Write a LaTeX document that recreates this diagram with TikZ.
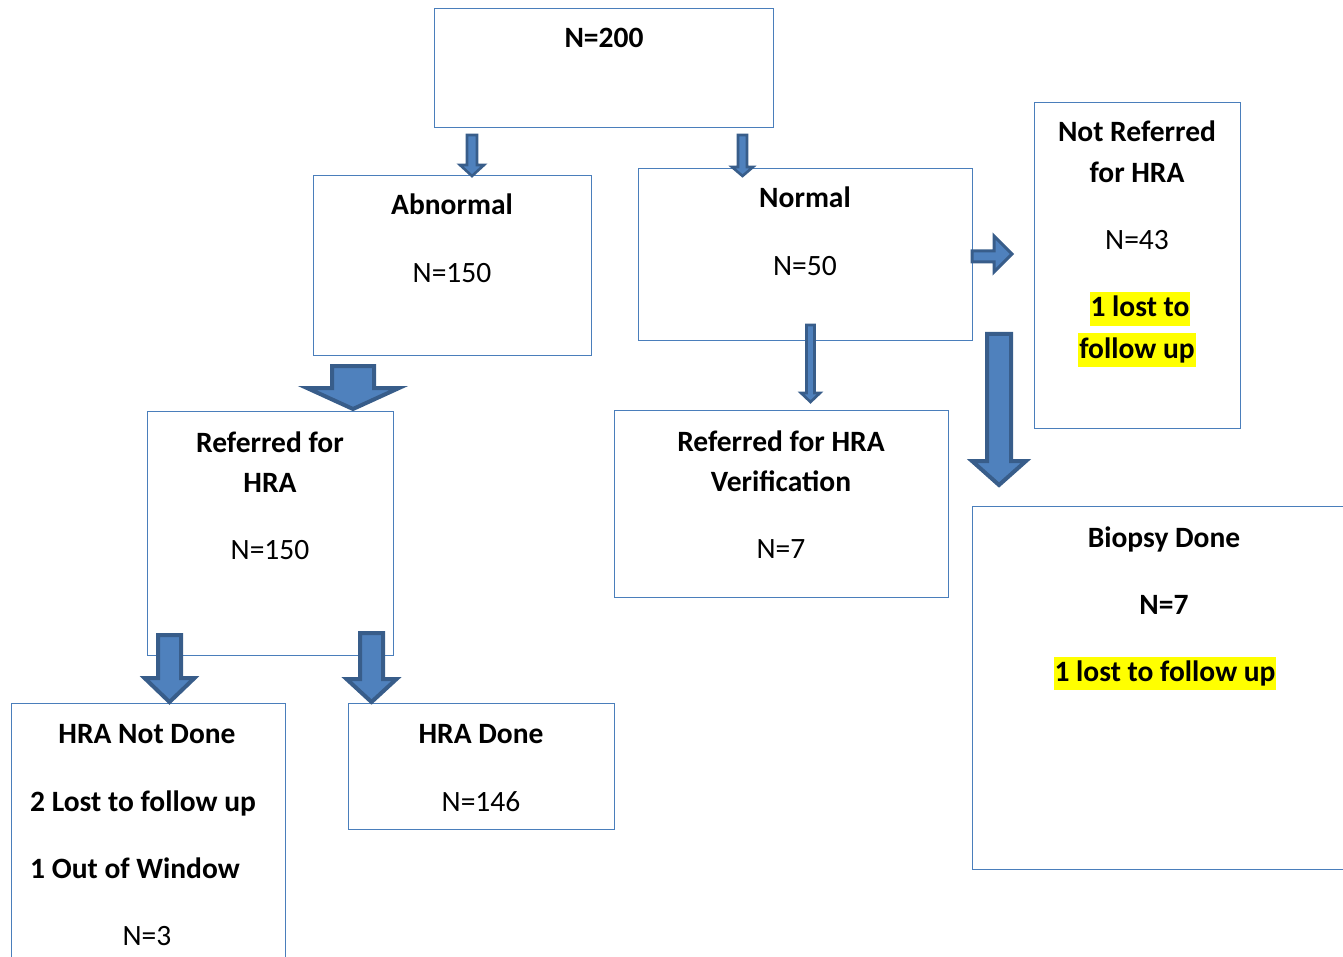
\documentclass[tikz,border=0pt]{standalone}
\usepackage{fontspec}
\setmainfont{Carlito}
\definecolor{boxblue}{HTML}{4A7EBB}
\definecolor{arrowfill}{HTML}{4F81BD}
\definecolor{arrowdark}{HTML}{385D8A}
\definecolor{hlyellow}{HTML}{FFFF00}
\tikzset{
  box/.style={draw=boxblue, line width=1.3pt, inner sep=0pt, anchor=north west},
  txt/.style={inner sep=0pt, anchor=base, font=\fontsize{29.5pt}{40pt}\selectfont},
  btxt/.style={txt, font=\fontsize{29.5pt}{40pt}\selectfont\bfseries},
  hl/.style={btxt, fill=hlyellow, inner xsep=1pt, inner ysep=0pt, text height=24.5pt, text depth=9pt},
  barrow/.style={draw=arrowdark, fill=arrowfill, line width=4pt, line join=miter},
  sarrow/.style={barrow, line width=2.6pt}
}
% cx, top, headstart, tip, shafthalf, headhalf, style
\newcommand{\blkdown}[7]{%
  \draw[#7] ({#1-#5},#2) -- ({#1+#5},#2) -- ({#1+#5},#3) -- ({#1+#6},#3) -- (#1,#4)
    -- ({#1-#6},#3) -- ({#1-#5},#3) -- cycle;}
\begin{document}
\begin{tikzpicture}[x=1pt,y=-1pt]
\useasboundingbox (0,0) rectangle (1343,957);
\clip (0,0) rectangle (1343,957);
% boxes
\node[box, minimum width=339pt, minimum height=119pt] (top) at (434,8) {};
\node[box, minimum width=278pt, minimum height=180pt] (abn) at (313,175) {};
\node[box, minimum width=334pt, minimum height=172pt] (nor) at (638,168) {};
\node[box, minimum width=206pt, minimum height=326pt] (notref) at (1034,102) {};
\node[box, minimum width=246pt, minimum height=244pt] (ref) at (147,411) {};
\node[box, minimum width=334pt, minimum height=187pt] (ver) at (614,410) {};
\node[box, minimum width=380pt, minimum height=363pt] (bio) at (972,506) {};
\node[box, minimum width=274pt, minimum height=270pt] (notdone) at (11,703) {};
\node[box, minimum width=266pt, minimum height=126pt] (done) at (348,703) {};
% texts
\node[btxt] (t1) at (604,48) {N=200};
\node[btxt] (t2) at (452,215) {Abnormal};
\node[txt] (t3) at (452,283) {N=150};
\node[btxt] (t4) at (805,208) {Normal};
\node[txt] (t5) at (805,276) {N=50};
\node[btxt] (t6) at (1137,142) {Not Referred};
\node[btxt] (t7) at (1137,183) {for HRA};
\node[txt] (t8) at (1137,250) {N=43};
\node[hl] (t9) at (1140,317) {1 lost to\ };
\node[hl] (t10) at (1137,358) {follow up};
\node[btxt] (t11) at (270,452) {Referred for};
\node[btxt] (t12) at (270,492) {HRA};
\node[txt] (t13) at (270,559) {N=150};
\node[btxt] (t14) at (781,451) {Referred for HRA};
\node[btxt] (t15) at (781,491) {Verification};
\node[txt] (t16) at (781,558) {N=7};
\node[btxt] (t17) at (1164,547) {Biopsy Done};
\node[btxt] (t18) at (1164,614) {N=7};
\node[hl] (t19) at (1165,681) {1 lost to follow up};
\node[btxt] (t20) at (147,743) {HRA Not Done};
\node[btxt, anchor=base west] (t21) at (30,811) {2 Lost to follow up};
\node[btxt, anchor=base west] (t22) at (30,878) {1 Out of Window};
\node[txt] (t23) at (147,945) {N=3};
\node[btxt] (t24) at (481,743) {HRA Done};
\node[txt] (t25) at (481,811) {N=146};
% block arrows
\blkdown{472}{135}{165}{176}{5}{12}{sarrow}
\blkdown{742.5}{135}{167}{176}{4.5}{10.5}{sarrow}
\blkdown{353}{366}{388}{409}{21}{46}{barrow}
\blkdown{810.5}{325}{393}{402}{4}{9.5}{sarrow}
\blkdown{999}{334}{461}{485}{12}{27}{barrow}
\blkdown{169.5}{635}{678}{702}{11.5}{25}{barrow}
\blkdown{371.5}{633}{679}{702}{11.5}{25}{barrow}
\draw[barrow, line width=3pt] (972,251) -- (994,251) -- (994,236) -- (1012,254) -- (994,272) -- (994,262) -- (972,262) -- cycle;
\end{tikzpicture}
\end{document}
